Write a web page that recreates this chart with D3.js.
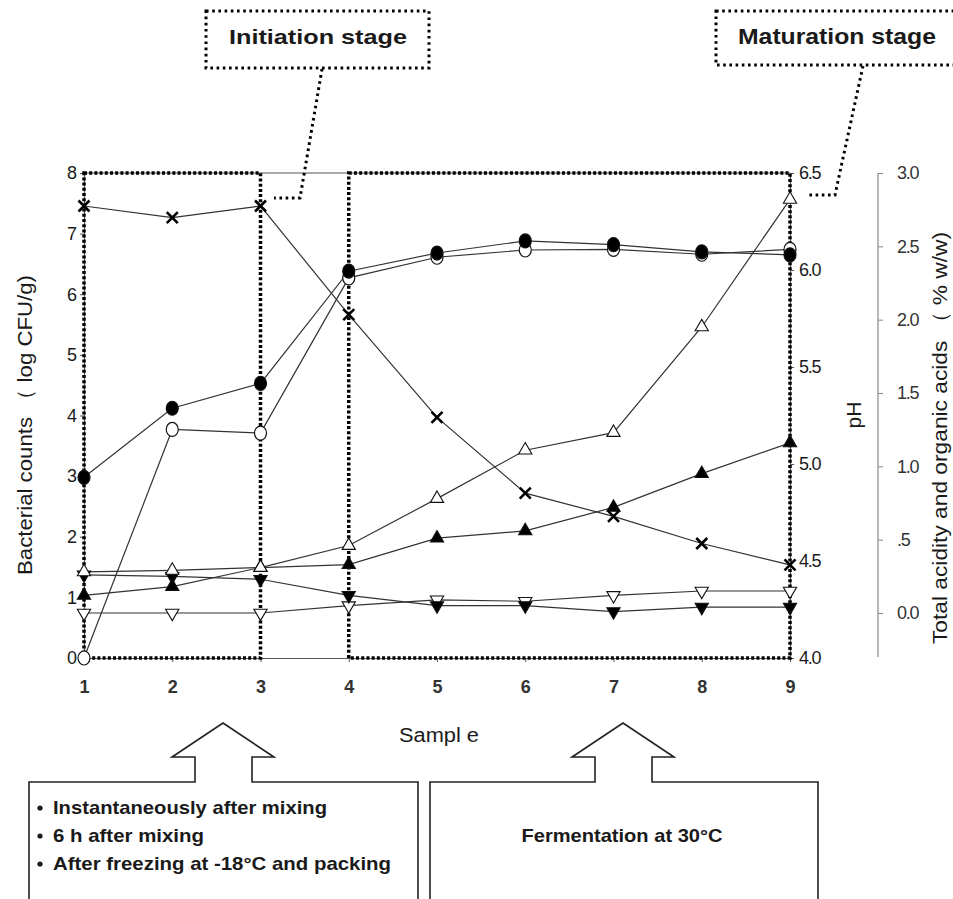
<!DOCTYPE html>
<html>
<head>
<meta charset="utf-8">
<script src="https://cdn.jsdelivr.net/npm/d3@7"></script>
<style>
  html, body { margin: 0; padding: 0; background: #fff; }
  svg { display: block; font-family: Arial, "Liberation Sans", sans-serif; }
</style>
</head>
<body>
<svg id="chart" width="953" height="899"></svg>
<script>
// ---------- data ----------
const samples = [1, 2, 3, 4, 5, 6, 7, 8, 9];
// bacterial counts (log CFU/g) - left axis
const filledCircle = [2.98, 4.12, 4.53, 6.38, 6.68, 6.88, 6.82, 6.70, 6.65];
const openCircle   = [0.00, 3.77, 3.71, 6.27, 6.61, 6.73, 6.74, 6.66, 6.74];
// pH - right axis
const pHValues     = [6.33, 6.27, 6.33, 5.77, 5.24, 4.85, 4.73, 4.59, 4.48];
// total acidity and organic acids (% w/w) - far right axis
const openTriUp    = [0.28, 0.29, 0.31, 0.46, 0.78, 1.11, 1.23, 1.95, 2.82];
const filledTriUp  = [0.12, 0.18, 0.31, 0.33, 0.51, 0.56, 0.72, 0.95, 1.16];
const filledTriDown= [0.26, 0.25, 0.23, 0.12, 0.05, 0.05, 0.01, 0.04, 0.04];
const openTriDown  = [0.00, 0.00, 0.00, 0.05, 0.09, 0.08, 0.12, 0.15, 0.15];

const leftTicks = [0, 1, 2, 3, 4, 5, 6, 7, 8];
const pHTicks = [4.0, 4.5, 5.0, 5.5, 6.0, 6.5];
const pHTickLabels = ["4.0", "4.5", "5.0", "5.5", "6.0", "6.5"];
const acidTicks = [0, 0.5, 1.0, 1.5, 2.0, 2.5, 3.0];
const acidTickLabels = ["0.0", ".5", "1.0", "1.5", "2.0", "2.5", "3.0"];

const leftTitle = "Bacterial counts （ log CFU/g)";
const pHTitle = "pH";
const acidTitle = "Total acidity and organic acids （ % w/w)";
const xTitle = "Sampl e";
const stage1 = "Initiation stage";
const stage2 = "Maturation stage";
const box1Lines = ["Instantaneously after mixing", "6 h after mixing", "After freezing at -18°C and packing"];
const box2Text = "Fermentation at 30°C";

// ---------- scales ----------
const svg = d3.select("#chart");
const x = d3.scaleLinear().domain([1, 9]).range([84, 790]);
const yL = d3.scaleLinear().domain([0, 8]).range([658, 173]);
const yPH = d3.scaleLinear().domain([4, 6.5]).range([658, 173]);
const yAcid = d3.scaleLinear().domain([0, 3]).range([613, 173]);

const ink = "#1a1a1a";
const lineCol = "#333";

// ---------- axes ----------
svg.append("line").attr("x1", x(1)).attr("x2", x(9)).attr("y1", yL(8)).attr("y2", yL(8))
  .attr("stroke", "#555").attr("stroke-width", 1.2);

const axL = svg.append("g").attr("transform", `translate(${x(1)},0)`)
  .call(d3.axisLeft(yL).tickValues(leftTicks).tickSize(4).tickSizeOuter(0).tickPadding(3).tickFormat(d3.format("d")));
const axB = svg.append("g").attr("transform", `translate(0,${yL(0)})`)
  .call(d3.axisBottom(x).tickValues(samples).tickSize(4).tickSizeOuter(0).tickPadding(18).tickFormat(d3.format("d")));
const axPH = svg.append("g").attr("transform", `translate(${x(9)},0)`)
  .call(d3.axisRight(yPH).tickValues(pHTicks).tickSize(4).tickSizeOuter(0).tickPadding(5)
    .tickFormat((d, i) => pHTickLabels[i]));
const axA = svg.append("g").attr("transform", "translate(878,0)")
  .call(d3.axisRight(yAcid).tickValues(acidTicks).tickSize(5).tickSizeOuter(0).tickPadding(14)
    .tickFormat((d, i) => acidTickLabels[i]));
axA.select(".domain").remove();
axA.append("line").attr("x1", 0).attr("x2", 0).attr("y1", yAcid(3)).attr("y2", yAcid(-0.3))
  .attr("stroke", "#888").attr("stroke-width", 1.2);

[axL, axB, axPH, axA].forEach(a => {
  a.selectAll("text").attr("font-size", 18).attr("fill", ink).attr("font-family", "Arial, 'Liberation Sans', sans-serif");
  a.selectAll(".tick line").attr("stroke", "#555");
  a.select(".domain").attr("stroke", "#555").attr("stroke-width", 1.2);
});
axPH.selectAll("text").attr("letter-spacing", -1.2);
axA.selectAll("text").attr("letter-spacing", -1.2).attr("fill", "#333");
axB.selectAll("text").attr("font-weight", "bold").attr("fill", "#333");
axA.selectAll(".tick line").attr("stroke", "#888");

// axis titles
svg.append("text").attr("transform", "translate(32,425) rotate(-90)").attr("text-anchor", "middle")
  .attr("font-size", 21).attr("fill", ink).attr("textLength", 300).attr("lengthAdjust", "spacingAndGlyphs").text(leftTitle);
svg.append("text").attr("transform", "translate(861,415) rotate(-90)").attr("text-anchor", "middle")
  .attr("font-size", 21).attr("fill", ink).text(pHTitle);
svg.append("text").attr("transform", "translate(947,438) rotate(-90)").attr("text-anchor", "middle")
  .attr("font-size", 21).attr("fill", ink).attr("textLength", 412).attr("lengthAdjust", "spacingAndGlyphs").text(acidTitle);
svg.append("text").attr("x", 439).attr("y", 742).attr("text-anchor", "middle")
  .attr("font-size", 20).attr("fill", ink).attr("textLength", 80).attr("lengthAdjust", "spacingAndGlyphs").text(xTitle);

// ---------- dotted stage boxes ----------
const dotStyle = sel => sel.attr("fill", "none").attr("stroke", "#000").attr("stroke-width", 3.5)
  .attr("stroke-dasharray", "3,2.2");
dotStyle(svg.append("rect").attr("x", x(1)).attr("y", yL(8)).attr("width", x(3) - x(1)).attr("height", yL(0) - yL(8)));
dotStyle(svg.append("rect").attr("x", x(4)).attr("y", yL(8)).attr("width", x(9) - x(4)).attr("height", yL(0) - yL(8)));

// ---------- series ----------
const line = (yS, vals) => d3.line().x((d, i) => x(samples[i])).y(d => yS(d))(vals);
const seriesDefs = [
  { vals: openTriDown, y: yAcid, m: "triDown", fill: "#fff" },
  { vals: filledTriDown, y: yAcid, m: "triDown", fill: "#000" },
  { vals: filledTriUp, y: yAcid, m: "triUp", fill: "#000" },
  { vals: openTriUp, y: yAcid, m: "triUp", fill: "#fff" },
  { vals: pHValues, y: yPH, m: "x", fill: "none" },
  { vals: openCircle, y: yL, m: "circle", fill: "#fff" },
  { vals: filledCircle, y: yL, m: "circle", fill: "#000" }
];
seriesDefs.forEach(s => {
  svg.append("path").attr("d", line(s.y, s.vals)).attr("fill", "none")
    .attr("stroke", lineCol).attr("stroke-width", 1.2);
});
const tri = d3.symbol().type(d3.symbolTriangle).size(76);
seriesDefs.forEach(s => {
  const g = svg.append("g");
  s.vals.forEach((v, i) => {
    const cx = x(samples[i]), cy = s.y(v);
    if (s.m === "circle") {
      g.append("ellipse").attr("cx", cx).attr("cy", cy).attr("rx", 6).attr("ry", 7)
        .attr("fill", s.fill).attr("stroke", "#111").attr("stroke-width", 1.2);
    } else if (s.m === "triUp" || s.m === "triDown") {
      g.append("path").attr("d", tri())
        .attr("transform", `translate(${cx},${cy})` + (s.m === "triDown" ? " rotate(180)" : ""))
        .attr("fill", s.fill).attr("stroke", "#111").attr("stroke-width", 1.1);
    } else {
      const r = 5.5;
      g.append("path").attr("d", `M${cx - r},${cy - r}L${cx + r},${cy + r}M${cx - r},${cy + r}L${cx + r},${cy - r}`)
        .attr("stroke", "#000").attr("stroke-width", 2.6).attr("fill", "none");
    }
  });
});

// ---------- top callouts ----------
const calloutStyle = sel => sel.attr("fill", "none").attr("stroke", "#000").attr("stroke-width", 3)
  .attr("stroke-dasharray", "2.6,3.6");
calloutStyle(svg.append("rect").attr("x", 206).attr("y", 11).attr("width", 223).attr("height", 57).attr("fill", "#fff"));
calloutStyle(svg.append("path").attr("d", "M322,69 L300,198 L274,198"));
svg.append("text").attr("x", 318).attr("y", 44).attr("text-anchor", "middle").attr("font-size", 21)
  .attr("font-weight", "bold").attr("fill", ink).attr("textLength", 178).attr("lengthAdjust", "spacingAndGlyphs").text(stage1);

calloutStyle(svg.append("rect").attr("x", 716).attr("y", 11).attr("width", 260).attr("height", 54).attr("fill", "#fff"));
calloutStyle(svg.append("path").attr("d", "M863,66 L835,195 L809,195"));
svg.append("text").attr("x", 837).attr("y", 44).attr("text-anchor", "middle").attr("font-size", 22)
  .attr("font-weight", "bold").attr("fill", ink).attr("textLength", 198).attr("lengthAdjust", "spacingAndGlyphs").text(stage2);

// ---------- bottom arrow boxes ----------
function arrowBox(x0, x1, tipX, top, bottom) {
  const headY = 757, tipY = 723;
  const p = `M${x0},${bottom} L${x0},${top} L${tipX - 28},${top} L${tipX - 28},${headY} L${tipX - 51},${headY}
    L${tipX},${tipY} L${tipX + 51},${headY} L${tipX + 29},${headY} L${tipX + 29},${top} L${x1},${top} L${x1},${bottom}`;
  svg.append("path").attr("d", p).attr("fill", "#fff").attr("stroke", "#222").attr("stroke-width", 1.6);
}
arrowBox(29, 418, 223, 782, 899);
arrowBox(430, 818, 623, 782, 899);

const b1y = [814, 842, 870];
const lens = [274, 151, 338];
box1Lines.forEach((t, i) => {
  svg.append("circle").attr("cx", 40).attr("cy", b1y[i] - 6).attr("r", 2.6).attr("fill", ink);
  svg.append("text").attr("x", 53).attr("y", b1y[i]).attr("font-size", 19).attr("font-weight", "bold")
    .attr("fill", ink).attr("textLength", lens[i]).attr("lengthAdjust", "spacingAndGlyphs").text(t);
});
svg.append("text").attr("x", 622).attr("y", 842).attr("text-anchor", "middle").attr("font-size", 19)
  .attr("font-weight", "bold").attr("fill", ink).attr("textLength", 201).attr("lengthAdjust", "spacingAndGlyphs").text(box2Text);
</script>
</body>
</html>
